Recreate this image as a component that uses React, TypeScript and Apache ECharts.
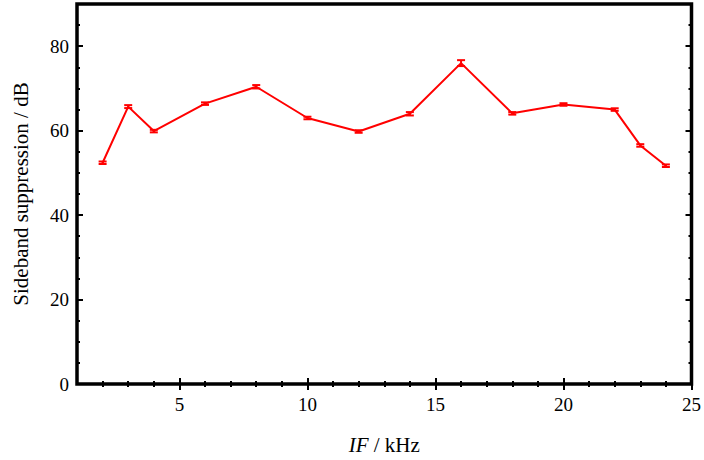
import React, { useEffect, useRef } from "react";
import * as echarts from "echarts";

const freqs = [2, 3, 4, 6, 8, 10, 12, 14, 16, 18, 20, 22, 23, 24];
const suppression = [52.4, 65.7, 59.9, 66.4, 70.4, 63.0, 59.8, 64.0, 76.0, 64.1, 66.2, 65.0, 56.5, 51.7];
const errors = [0.3, 0.35, 0.3, 0.3, 0.4, 0.3, 0.3, 0.4, 0.7, 0.3, 0.3, 0.3, 0.3, 0.3];
const xMajorTicks = [5, 10, 15, 20, 25];
const xMinorTicks = [2, 3, 4, 6, 7, 8, 9, 11, 12, 13, 14, 16, 17, 18, 19, 21, 22, 23, 24];
const yMajorTicks = [0, 20, 40, 60, 80];
const yMinorTicks = [5, 10, 15, 25, 30, 35, 45, 50, 55, 65, 70, 75, 85];

const FONT = "Times New Roman, Liberation Serif, DejaVu Serif, Noto Serif, serif";

export default function App() {
  const ref = useRef<HTMLDivElement>(null);
  useEffect(() => {
    if (!ref.current) return;
    const chart = echarts.init(ref.current, null, { renderer: "svg" });
    const xBase = { type: "value", min: 1, max: 25, gridIndex: 0, axisLine: { show: false }, splitLine: { show: false } };
    const yBase = { type: "value", min: 0, max: 90, gridIndex: 0, axisLine: { show: false }, splitLine: { show: false } };
    const tickStyle = { color: "#000", width: 2 };
    const hiddenLabel = { show: false };
    chart.setOption({
      animation: false,
      textStyle: { fontFamily: FONT },
      grid: { left: 77, right: 9, top: 4, bottom: 76, show: true, borderColor: "#000", borderWidth: 3.5, backgroundColor: "transparent" },
      xAxis: [
        {
          ...xBase,
          position: "bottom",
          name: "{i|IF} / kHz",
          nameLocation: "middle",
          nameGap: 50,
          nameTextStyle: {
            fontFamily: FONT, fontSize: 21, color: "#000",
            rich: { i: { fontFamily: FONT, fontSize: 21, fontStyle: "italic", color: "#000" } },
          },
          axisTick: { show: true, inside: true, length: 6, lineStyle: tickStyle, customValues: xMajorTicks },
          axisLabel: { show: true, customValues: xMajorTicks, margin: 11, fontFamily: FONT, fontSize: 19, color: "#000" },
        },
        { ...xBase, position: "bottom", axisTick: { show: true, inside: true, length: 3, lineStyle: tickStyle, customValues: xMinorTicks }, axisLabel: hiddenLabel },
        { ...xBase, position: "top", axisTick: { show: true, inside: true, length: 6, lineStyle: tickStyle, customValues: xMajorTicks }, axisLabel: hiddenLabel },
        { ...xBase, position: "top", axisTick: { show: true, inside: true, length: 3, lineStyle: tickStyle, customValues: xMinorTicks }, axisLabel: hiddenLabel },
      ],
      yAxis: [
        {
          ...yBase,
          position: "left",
          name: "Sideband suppression / dB",
          nameLocation: "middle",
          nameGap: 46,
          nameTextStyle: { fontFamily: FONT, fontSize: 21, color: "#000" },
          axisTick: { show: true, inside: true, length: 6, lineStyle: tickStyle, customValues: yMajorTicks },
          axisLabel: { show: true, customValues: yMajorTicks, margin: 8, fontFamily: FONT, fontSize: 19, color: "#000" },
        },
        { ...yBase, position: "left", axisTick: { show: true, inside: true, length: 3, lineStyle: tickStyle, customValues: yMinorTicks }, axisLabel: hiddenLabel },
        { ...yBase, position: "right", axisTick: { show: true, inside: true, length: 6, lineStyle: tickStyle, customValues: yMajorTicks }, axisLabel: hiddenLabel },
        { ...yBase, position: "right", axisTick: { show: true, inside: true, length: 3, lineStyle: tickStyle, customValues: yMinorTicks }, axisLabel: hiddenLabel },
      ],
      series: [
        {
          type: "line",
          xAxisIndex: 0,
          yAxisIndex: 0,
          data: freqs.map((f, i) => [f, suppression[i]]),
          showSymbol: false,
          symbol: "none",
          lineStyle: { color: "#ff0000", width: 2 },
          z: 3,
        },
        {
          type: "custom",
          xAxisIndex: 0,
          yAxisIndex: 0,
          data: freqs.map((f, i) => [f, suppression[i] - errors[i], suppression[i] + errors[i]]),
          renderItem: (params: any, api: any) => {
            const x = api.value(0);
            const lo = api.coord([x, api.value(1)]);
            const hi = api.coord([x, api.value(2)]);
            const w = 4;
            const style = { stroke: "#ff0000", lineWidth: 2, fill: "none" };
            return {
              type: "group",
              children: [
                { type: "line", shape: { x1: lo[0], y1: lo[1], x2: hi[0], y2: hi[1] }, style },
                { type: "line", shape: { x1: lo[0] - w, y1: lo[1], x2: lo[0] + w, y2: lo[1] }, style },
                { type: "line", shape: { x1: hi[0] - w, y1: hi[1], x2: hi[0] + w, y2: hi[1] }, style },
              ],
            };
          },
          z: 4,
        },
      ],
    });
    return () => chart.dispose();
  }, []);
  return <div ref={ref} style={{ width: 704, height: 460, position: "absolute", left: 0, top: 0 }} />;
}
